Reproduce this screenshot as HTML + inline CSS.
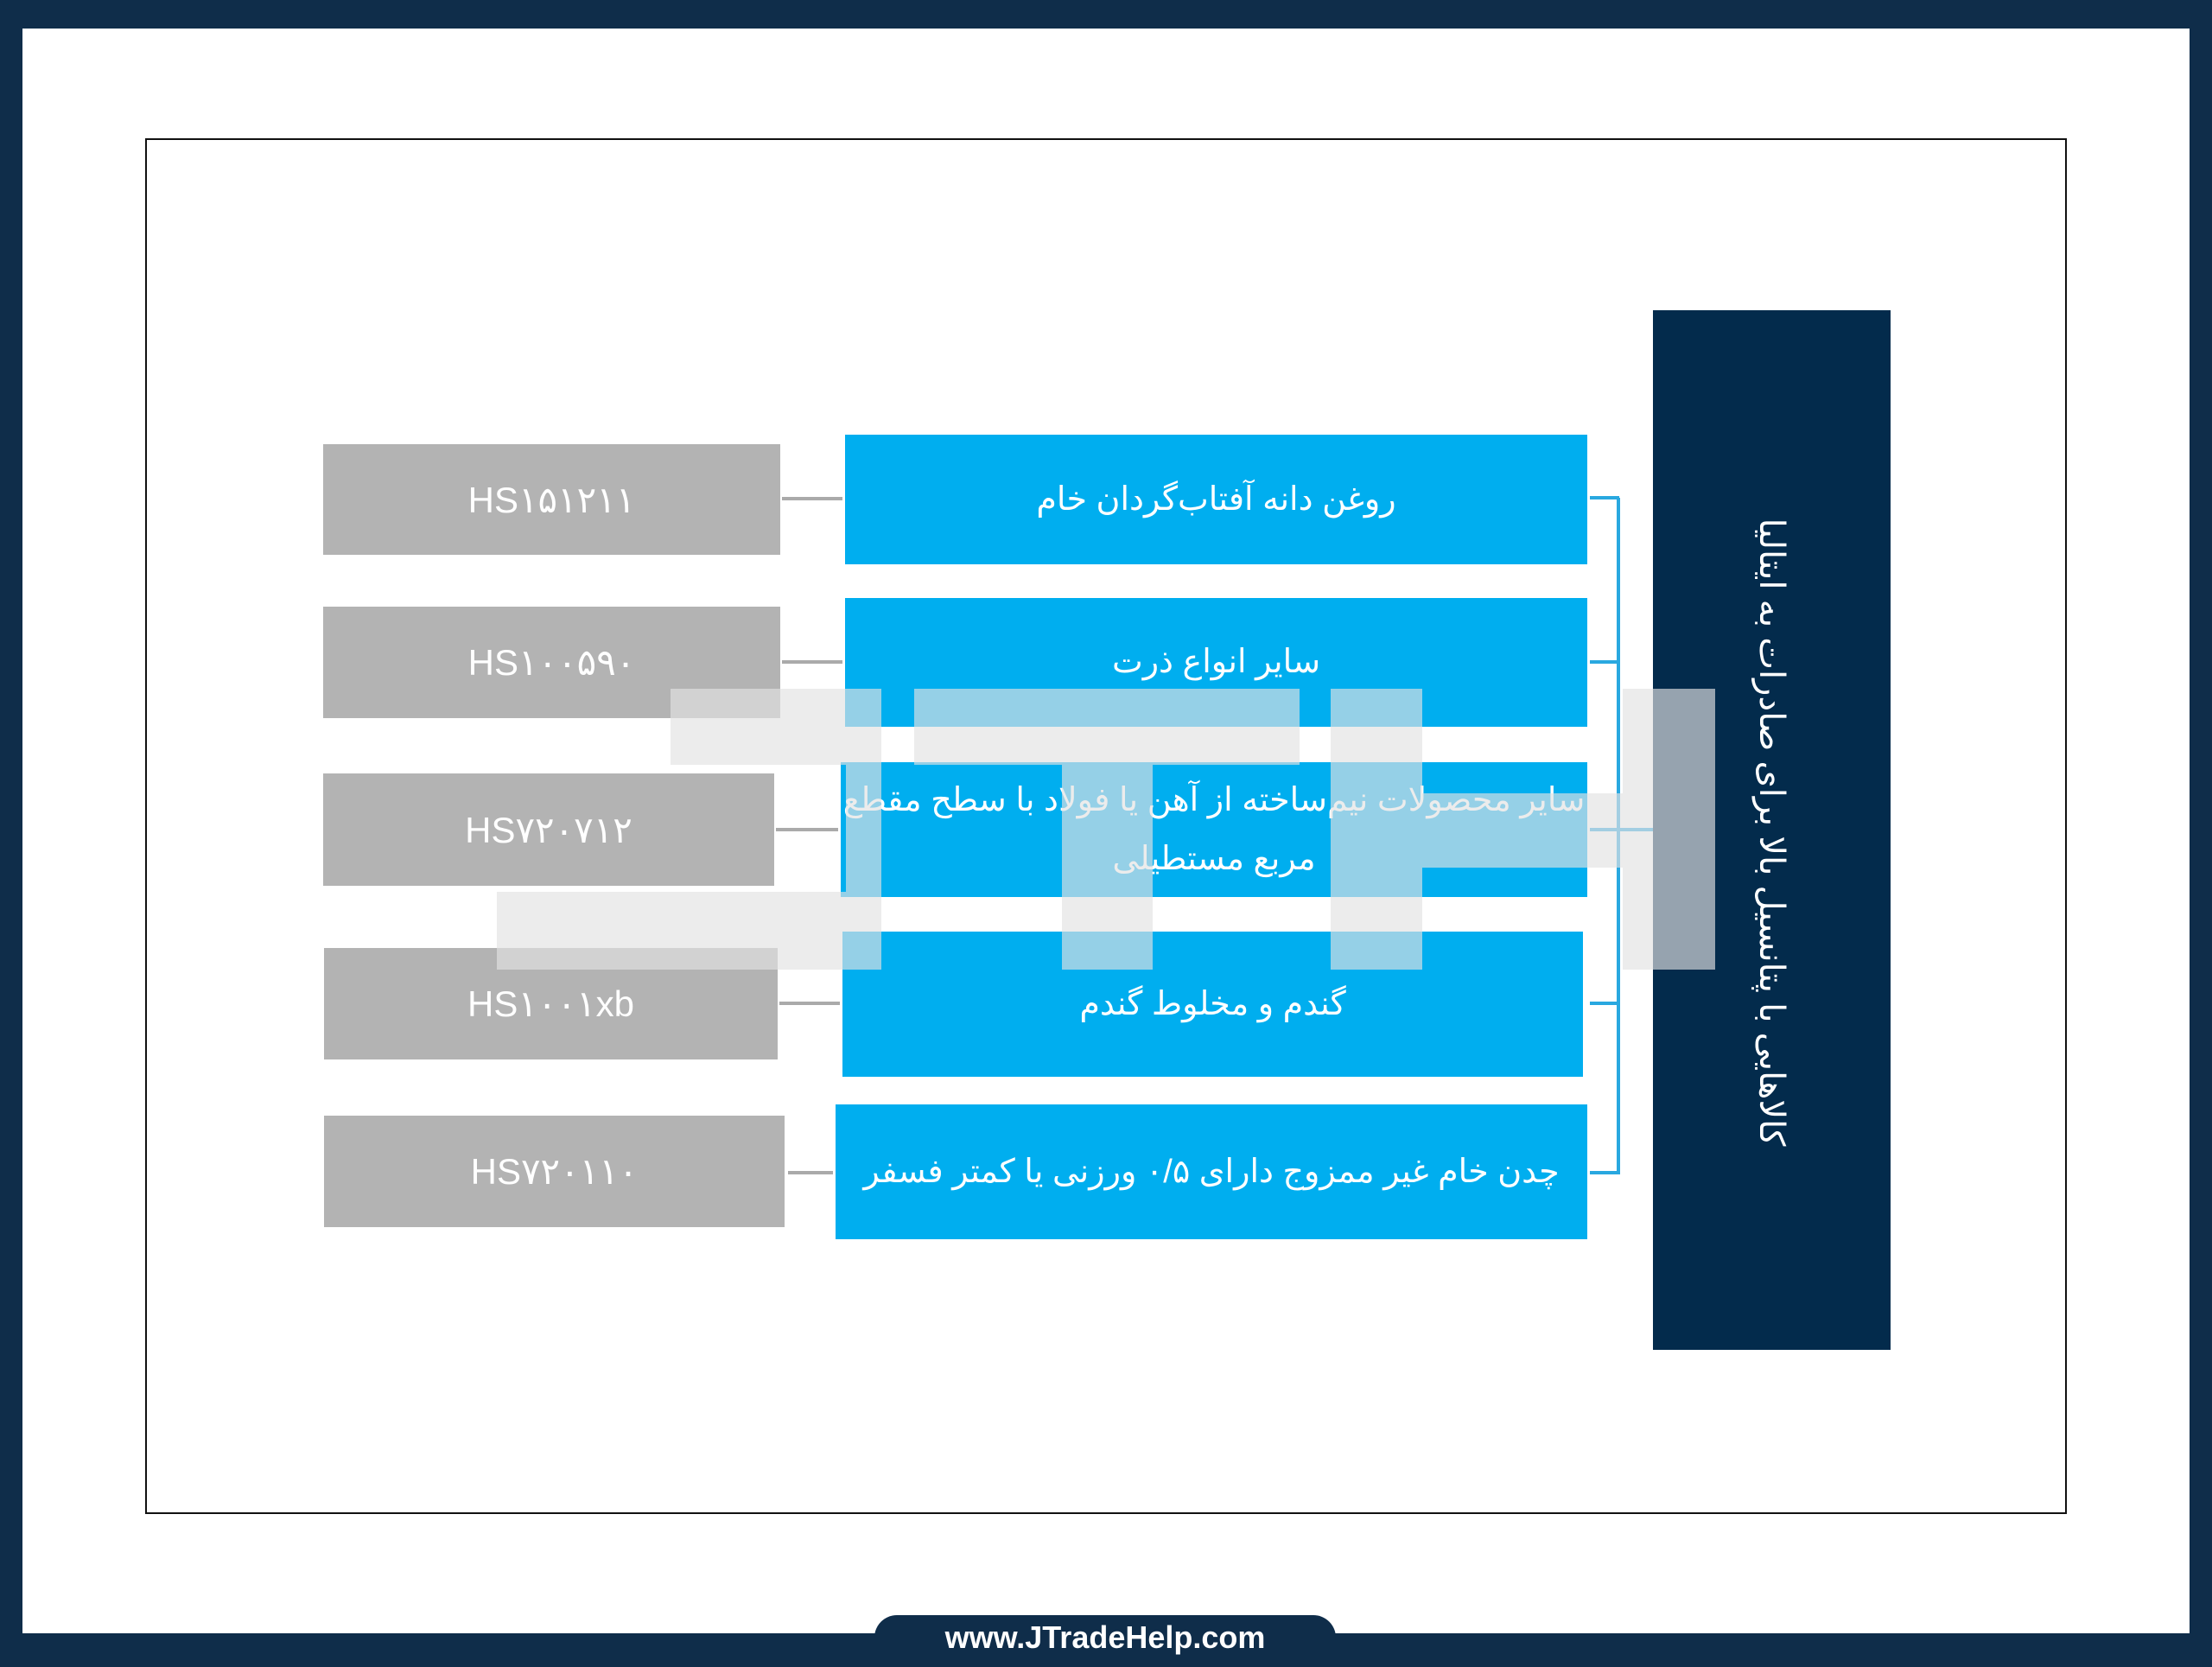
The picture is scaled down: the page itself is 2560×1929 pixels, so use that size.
<!DOCTYPE html>
<html><head><meta charset="utf-8"><style>
*{margin:0;padding:0;box-sizing:border-box}
body{width:2560px;height:1920px;position:relative;background:#0f2d4a;overflow:hidden;font-family:"Liberation Sans","DejaVu Sans","Noto Sans CJK SC",sans-serif}
.a{position:absolute}
.w{background:#fff}
.blue{background:#00aeef;color:#fff;display:flex;align-items:center;justify-content:center;text-align:center;font-size:38px;font-weight:normal;direction:rtl;line-height:1.8;white-space:nowrap}
.gray{background:#b3b3b3;color:#fff;display:flex;align-items:center;justify-content:center;font-size:42px;font-weight:normal}
.gl{background:#aaa;height:4px}
.bl{background:#29a8e0}
.ov{background:rgba(226,226,226,0.66)}
</style></head><body>
<div class="a w" style="left:26px;top:33px;width:2508px;height:1857px"></div>
<div class="a" style="left:168px;top:160px;width:2224px;height:1592px;border:2px solid #111"></div>

<div class="a" style="left:1913px;top:359px;width:275px;height:1203px;background:#032b4c"></div>
<div class="a" style="left:2050px;top:963px;width:0;height:0">
<div class="a" style="left:-600px;top:-30px;width:1200px;height:60px;transform:rotate(90deg);color:#fff;font-size:40px;text-align:center;direction:rtl;line-height:60px">کالاهایی با پتانسیل بالا برای صادرات به ایتالیا</div></div>

<div class="a blue" style="left:978px;top:503px;width:859px;height:150px">روغن دانه آفتاب‌گردان خام</div>
<div class="a blue" style="left:978px;top:692px;width:859px;height:149px">سایر انواع ذرت</div>
<div class="a blue" style="left:973px;top:882px;width:864px;height:156px">سایر محصولات نیم‌ساخته از آهن یا فولاد با سطح مقطع<br>مربع مستطیلی</div>
<div class="a blue" style="left:975px;top:1078px;width:857px;height:168px">گندم و مخلوط گندم</div>
<div class="a blue" style="left:967px;top:1278px;width:870px;height:156px">چدن خام غیر ممزوج دارای ۰/۵ ورزنی یا کمتر فسفر</div>

<div class="a gray" style="left:374px;top:514px;width:529px;height:128px">HS۱۵۱۲۱۱</div>
<div class="a gray" style="left:374px;top:702px;width:529px;height:129px">HS۱۰۰۵۹۰</div>
<div class="a gray" style="left:374px;top:895px;width:522px;height:130px">HS۷۲۰۷۱۲</div>
<div class="a gray" style="left:375px;top:1097px;width:525px;height:129px">HS۱۰۰۱xb</div>
<div class="a gray" style="left:375px;top:1291px;width:533px;height:129px">HS۷۲۰۱۱۰</div>

<div class="a gl" style="left:905px;top:575px;width:70px"></div>
<div class="a gl" style="left:905px;top:764px;width:70px"></div>
<div class="a gl" style="left:898px;top:958px;width:72px"></div>
<div class="a gl" style="left:902px;top:1159px;width:70px"></div>
<div class="a gl" style="left:912px;top:1355px;width:52px"></div>

<div class="a bl" style="left:1871px;top:576px;width:4px;height:783px"></div>
<div class="a bl" style="left:1840px;top:574px;width:34px;height:4px"></div>
<div class="a bl" style="left:1840px;top:764px;width:34px;height:4px"></div>
<div class="a bl" style="left:1840px;top:958px;width:73px;height:4px"></div>
<div class="a bl" style="left:1840px;top:1159px;width:34px;height:4px"></div>
<div class="a bl" style="left:1840px;top:1355px;width:34px;height:4px"></div>

<div class="a ov" style="left:776px;top:797px;width:244px;height:88px"></div>
<div class="a ov" style="left:979px;top:885px;width:41px;height:237px"></div>
<div class="a ov" style="left:1058px;top:797px;width:446px;height:88px"></div>
<div class="a ov" style="left:1229px;top:885px;width:105px;height:237px"></div>
<div class="a ov" style="left:1540px;top:797px;width:106px;height:325px"></div>
<div class="a ov" style="left:1646px;top:918px;width:232px;height:86px"></div>
<div class="a ov" style="left:1878px;top:797px;width:107px;height:325px"></div>
<div class="a ov" style="left:575px;top:1032px;width:404px;height:90px"></div>

<div class="a" style="left:1012px;top:1869px;width:534px;height:60px;background:#0f2d4a;border-radius:26px 26px 0 0;color:#fff;font-size:36px;font-weight:bold;text-align:center;line-height:52px">www.JTradeHelp.com</div>
</body></html>
